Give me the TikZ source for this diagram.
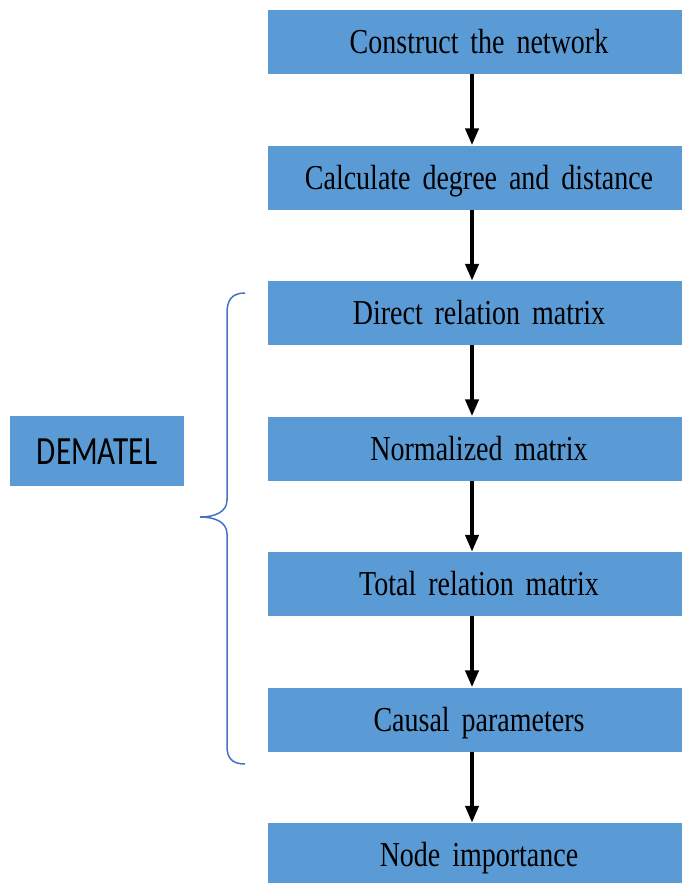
\documentclass[tikz,border=0pt]{standalone}
\usepackage{fontspec}
\usetikzlibrary{arrows.meta}
\newfontfamily\stepfont[FakeStretch=0.8,WordSpace=1.7]{Liberation Serif}
\newfontfamily\labelfont[FakeStretch=0.78]{Carlito}
\definecolor{boxblue}{HTML}{5B9BD5}
\definecolor{bracecol}{HTML}{4472C4}
\tikzset{
  stepbox/.style={fill=boxblue, minimum width=422pt, minimum height=64pt,
    inner sep=0pt, text height=23pt, text depth=0pt,
    font=\stepfont\fontsize{35}{40}\selectfont},
  methodbox/.style={fill=boxblue, minimum width=174pt, minimum height=70pt,
    inner sep=0pt, text height=26pt, text depth=0pt,
    font=\labelfont\fontsize{40}{44}\selectfont},
  flow/.style={line width=4pt, -{Triangle[length=17pt,width=13pt]}},
  bracestyle/.style={draw=bracecol, line width=1.5pt}
}
\begin{document}
\begin{tikzpicture}[x=1pt,y=-1pt]
\useasboundingbox (0,0) rectangle (682,883);
\clip (0,0) rectangle (682,883);

% main steps
\node[stepbox] (s1) at (479,42)    {Construct the network};
\node[stepbox] (s2) at (479,177.5) {Calculate degree and distance};
\node[stepbox] (s3) at (479,313)   {Direct relation matrix};
\node[stepbox] (s4) at (479,448.5) {Normalized matrix};
\node[stepbox] (s5) at (479,584)   {Total relation matrix};
\node[stepbox] (s6) at (479,719.5) {Causal parameters};
\node[stepbox] (s7) at (479,855)   {Node importance};

% method label
\node[methodbox] (dem) at (97,451) {DEMATEL};

% arrows between steps
\foreach \a/\b in {s1/s2,s2/s3,s3/s4,s4/s5,s5/s6,s6/s7}
  \draw[flow] ([xshift=-7pt]\a.south) -- ([xshift=-7pt]\b.north);

% brace grouping the DEMATEL steps
\draw[bracestyle] (245,293) .. controls (232,293) and (227,300) .. (227,313)
  -- (227,500) .. controls (227,512) and (215,517) .. (200,517)
  .. controls (215,517) and (227,522) .. (227,534)
  -- (227,746) .. controls (227,758) and (232,764) .. (245,764);
\end{tikzpicture}
\end{document}
